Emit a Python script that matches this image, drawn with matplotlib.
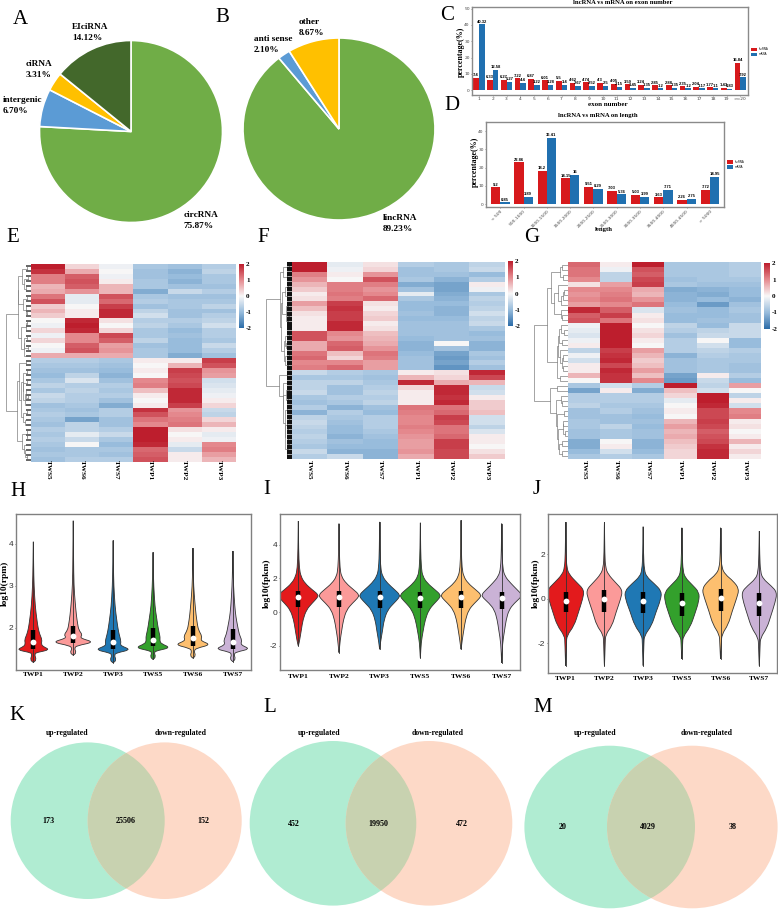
import numpy as np
import matplotlib
matplotlib.use('Agg')
import matplotlib.pyplot as plt
from matplotlib.colors import LinearSegmentedColormap
from matplotlib.patches import Ellipse, PathPatch
from matplotlib.path import Path

plt.rcParams['axes.unicode_minus'] = False

W, H = 778, 909
SERIF = 'Liberation Serif'
SANS = 'Liberation Sans'

# pies
pie_a_labels = ['circRNA', 'intergenic', 'ciRNA', 'EIciRNA']
pie_a_values = [75.87, 6.70, 3.31, 14.12]
pie_b_labels = ['lincRNA', 'anti sense', 'other']
pie_b_values = [89.23, 2.10, 8.67]

# bars
exon_labels = [str(i) for i in range(1, 20)] + ['>=20']
exon_lnc = [7.4, 6.33, 6.27, 7.22, 6.87, 6.01, 5.5, 4.62, 4.74, 4.3, 4.05, 3.59, 3.24, 2.85, 2.88, 2.35, 2.04, 1.77, 1.43, 16.84]
exon_m = [40.32, 12.58, 5.27, 4.4, 3.22, 3.28, 3.4, 2.67, 2.52, 2.5, 2.15, 1.45, 1.35, 1.2, 1.35, 1.2, 1.17, 1.1, 0.83, 7.92]
len_labels = ['< 500', '500-1000', '1000-1500', '1500-2000', '2000-2500', '2500-3000', '3000-3500', '3500-4000', '4000-4500', '> 5000']
len_lnc = [9.2, 22.86, 18.2, 14.15, 9.51, 7.03, 5.03, 3.63, 2.26, 7.72]
len_m = [0.85, 3.89, 36.41, 16, 8.29, 5.36, 3.99, 7.71, 2.75, 14.95]

# heatmaps, columns TWS5 TWS6 TWS7 TWP1 TWP2 TWP3
heat_cols = ['TWS5', 'TWS6', 'TWS7', 'TWP1', 'TWP2', 'TWP3']
heat_e = [
    [2.0, .3, -.1, -.8, -.9, -.7], [1.8, .7, 0, -.9, -1.1, -.6], [1.1, 1.4, -.1, -.9, -1.0, -.8],
    [1.1, 1.5, .1, -.8, -1.1, -.8], [.6, 1.4, .6, -.8, -.9, -.9], [.7, .9, .6, -1.2, -.5, -.7],
    [1.2, -.2, 1.5, -.8, -.9, -.9], [1.5, -.2, 1.3, -.7, -.8, -.8], [.4, 0, 1.7, -.9, -.8, -.6],
    [.6, .1, 1.9, -.6, -.9, -.9], [.4, .1, 1.9, -.4, -.9, -.7], [0, 1.9, .2, -.7, -.7, -.6],
    [-.1, 2, 0, -.6, -.8, -.4], [.3, 1.9, .3, -.8, -1, -.7], [-.1, 1.0, 1.6, -.8, -.9, -.7],
    [.3, 1, 1.4, -.6, -1, -.8], [0, 1.4, .8, -.9, -1, -.5], [-.1, 1.5, .9, -.8, -1, -.7],
    [.7, .7, .7, -.8, -1.2, -.9],
    [-.7, -.7, -.8, .1, .1, 1.7], [-.8, -.8, -.9, 0, .6, 1.5], [-.9, -.9, -1, .1, 1.7, .9],
    [-1, -.6, -1.1, 0, 1.6, .8], [-.8, -.3, -.9, 1.0, 1.5, -.4], [-.6, -.7, -.7, 1.1, 1.6, -.3],
    [-.8, -.6, -.8, .5, 1.9, -.2], [-.5, -.7, -.7, .1, 1.9, -.1], [-.6, -.7, -.9, 0, 1.9, .1],
    [-.9, -.8, -1.2, .1, 1.7, .3], [-.8, -.9, -.7, 1.8, .9, -.5], [-.7, -.8, -.7, 1.5, 1.0, -.6],
    [-.8, -1.3, -.9, 1.2, 1.1, .3], [-.9, -.6, -.9, 1.0, 1.2, .6], [-.7, -.6, -.7, 2, .2, .1],
    [-.8, -.2, -.5, 2, 0, -.2], [-.7, -.5, -.8, 2, .1, -.1], [-.8, 0, -1, 1.9, -.2, 1.0],
    [-.9, -.8, -.8, 1.3, -.5, 1.1], [-.8, -.8, -.9, 1.4, .1, .8], [-.9, -.7, -.7, 1.5, .1, .6],
]
heat_f = [
    [2, -.2, .2, -.7, -.8, -.6], [2, -.1, .3, -.9, -.8, -.5], [1.1, .1, .9, -.9, -.9, -1],
    [.9, 0, 1.5, -.8, -1.1, -.7], [.6, 1.1, 1.1, -1.2, -1.3, .1], [.4, 1.1, .9, -.9, -1.3, -.1],
    [.1, 1.2, 1.0, -.2, -1.2, -.8], [.2, 1.1, 1.3, -.8, -1.1, -.6], [.8, 1.7, .2, -1, -1, -.7],
    [.5, 1.8, .1, -1, -1.1, -.6], [.2, 1.7, .3, -.9, -1.1, -.4], [.1, 1.7, .4, -1, -1, -.6],
    [.1, 1.9, .1, -.9, -.9, -.5], [.1, 1.9, .2, -.9, -.9, -.8], [1.5, 1, .5, -.9, -.9, -1],
    [1.5, .9, .6, -1, -.9, -.9], [.7, 1.3, .7, -1.1, .0, -1.1], [.7, 1.4, .9, -1.1, -.9, -1.1],
    [1.2, .5, 1.2, -1.0, -1.3, -.8], [1.3, .3, 1.1, -.9, -1.4, -.9], [1.0, 1.0, .8, -.9, -1.3, -.7],
    [1.1, 1.3, .8, -.9, -1.5, -.9],
    [-.5, -.7, -.8, .1, .2, 1.9], [-.8, -.8, -.9, .6, .3, 1.6], [-.6, -.6, -.8, 1.9, .7, .6],
    [-.6, -.9, -.7, .3, 1.9, -.5], [-.5, -.9, -.6, .1, 1.9, -.4], [-.8, -.7, -.7, .1, 1.8, .1],
    [-.9, -.8, -.6, .1, 1.9, .4], [-.7, -1.1, -.9, 1.2, 1.2, .4], [-1.1, -.7, -1, 1.1, 1.3, .5],
    [-.6, -.8, -.7, 1.0, 1.7, -.4], [-.5, -.9, -.7, 1.0, 1.6, -.4], [-.6, -1, -.7, 1.1, 1.2, -.6],
    [-.7, -1, -.8, 1.0, 1.2, -.3], [-.6, -1.1, -.9, .9, 1.3, .1], [-.7, -.9, -1, .8, 1.7, .1],
    [-.8, -1, -1, .8, 1.7, 0], [-.5, -1.1, -1.1, .9, 1.6, .2], [-.7, -.5, -1.1, .7, 1.6, .4],
]
heat_g = [
    [1.3, .1, 2, -.8, -.8, -.7], [1.2, -.1, 1.5, -.8, -.8, -.7], [1.2, -.6, 1.4, -.8, -.8, -.7],
    [1.0, -.6, 1.6, -.9, -.8, -.8], [.2, .8, 1.7, -.8, -.9, -.9], [1.0, 1.0, .7, -1.2, -1.1, -1],
    [.9, 1.1, .6, -1.1, -1.2, -1], [1.0, 1.2, .9, -1.1, -1, -1.1], [.8, 1.0, 1.2, -1, -1.4, -.9],
    [1.9, 1.4, -.3, -.9, -1.0, -.8], [1.4, 1.7, .1, -1.0, -1.0, -.9], [1.5, 1.2, .2, -1, -.9, -.9],
    [-.1, 2, 0, -.6, -1, -.5], [-.2, 2, .2, -.7, -.6, -.5], [-.3, 2, .3, -.9, -.5, -.5],
    [-.1, 2, .1, -.7, .0, -1.0], [.1, 2, 0, -.7, -.4, -1.0], [-.6, 1.7, .8, -.7, -.6, -.7],
    [-.1, 1.8, .6, -1.1, -.7, -.8], [-.4, 1.9, .4, -.9, -.8, -.8], [.1, 1.6, .5, -.9, -.8, -.9],
    [.1, 1.9, .8, -.9, -.8, -.9], [.6, 1.8, .5, -1.3, .1, -.7], [0, 1.8, 1.0, -1.4, -.5, -1.0],
    [-.8, -.4, -.7, 2, -.6, .8], [-1.3, .1, -1.2, .5, -.4, .0],
    [-.7, -.7, -.7, .3, 2, -.6], [-.7, -.7, -.7, -.2, 2, .1], [-.6, -.8, -.8, 0, 1.9, -.4],
    [-.9, -.7, -.9, .1, 1.6, 1.0], [-.9, -.9, -1, 0, 1.6, 1.1], [-.8, -.9, -.9, .6, 1.7, .1],
    [-.8, -.6, -1, .8, 1.6, .2], [-.9, -.8, -.9, .6, 1.4, .0], [-.9, -.8, -.9, .7, 1.5, .1],
    [-1.2, .0, -1.1, .5, 1.6, .6], [-1.2, .1, -1.1, .4, 1.8, .1], [-1.0, -.4, -1.0, .3, 1.9, .3],
    [-.8, -.7, -.8, .3, 1.9, .1],
]

# violin panels, names shared
vio_names = ['TWP1', 'TWP2', 'TWP3', 'TWS5', 'TWS6', 'TWS7']
vio_colors = ['#e31a1c', '#fb9a99', '#1f78b4', '#33a02c', '#fdbf6f', '#cab2d6']

# H: for each violin levels of log10(rpm) and half widths
h_y = [
    [1.18, 1.24, 1.38, 1.42, 1.48, 1.56, 1.62, 1.72, 1.85, 2.0, 2.2, 2.5, 3.0, 3.5, 4.05],
    [1.35, 1.41, 1.52, 1.58, 1.66, 1.74, 1.78, 1.84, 1.95, 2.1, 2.3, 2.6, 3.0, 3.7, 4.55],
    [1.17, 1.23, 1.36, 1.41, 1.48, 1.56, 1.6, 1.68, 1.85, 2.0, 2.2, 2.5, 3.0, 3.5, 4.08],
    [1.25, 1.31, 1.42, 1.46, 1.53, 1.62, 1.68, 1.78, 1.9, 2.05, 2.25, 2.5, 3.0, 3.4, 3.8],
    [1.28, 1.34, 1.46, 1.52, 1.6, 1.68, 1.72, 1.8, 1.95, 2.1, 2.3, 2.6, 3.0, 3.4, 3.9],
    [1.2, 1.26, 1.38, 1.43, 1.5, 1.58, 1.63, 1.7, 1.85, 2.05, 2.25, 2.5, 3.0, 3.4, 3.83],
]
h_w = [
    [0, .08, .025, .1, .42, .24, .2, .22, .16, .12, .09, .05, .018, .008, .002],
    [0, .08, .025, .1, .52, .24, .18, .23, .14, .11, .08, .05, .018, .008, .002],
    [0, .08, .025, .1, .44, .24, .18, .2, .15, .12, .09, .05, .018, .008, .002],
    [0, .07, .025, .1, .44, .22, .17, .18, .15, .12, .09, .05, .018, .008, .002],
    [0, .07, .025, .1, .44, .24, .2, .23, .14, .11, .08, .05, .018, .008, .002],
    [0, .07, .025, .1, .43, .24, .2, .23, .16, .12, .08, .05, .018, .008, .002],
]
h_box = [(1.5, 1.96, 1.67), (1.64, 2.04, 1.82), (1.5, 1.96, 1.66), (1.56, 2.0, 1.71), (1.58, 2.05, 1.75), (1.5, 1.98, 1.67)]

# I: log10(fpkm)
i_y = [
    [-2.0, -1.64, -1.05, -.45, .14, .53, .83, 1.03, 1.33, 1.72, 2.12, 2.6, 3.7, 5.4],
    [-2.4, -1.65, -1.05, -.45, .14, .53, .83, 1.03, 1.33, 1.72, 2.12, 2.6, 3.7, 5.25],
    [-2.2, -1.8, -1.1, -.45, .14, .53, .83, 1.03, 1.33, 1.72, 2.12, 2.6, 3.7, 5.35],
    [-2.7, -1.8, -1.1, -.45, .14, .53, .83, 1.03, 1.33, 1.72, 2.12, 2.6, 3.7, 5.3],
    [-2.2, -1.65, -1.05, -.45, .14, .53, .83, 1.03, 1.33, 1.72, 2.12, 2.6, 3.7, 5.45],
    [-3.0, -1.85, -1.1, -.45, .14, .53, .83, 1.03, 1.33, 1.72, 2.12, 2.6, 3.7, 5.25],
]
i_w = [
    [.003, .035, .075, .115, .2, .34, .46, .5, .34, .16, .065, .025, .008, .002],
    [.003, .03, .07, .11, .19, .33, .46, .5, .36, .17, .06, .025, .008, .002],
    [.003, .02, .07, .11, .2, .35, .47, .5, .37, .19, .07, .025, .008, .002],
    [.003, .02, .07, .12, .21, .35, .47, .5, .36, .17, .06, .025, .008, .002],
    [.003, .03, .07, .11, .19, .33, .46, .5, .36, .17, .065, .025, .008, .002],
    [.003, .02, .07, .11, .18, .31, .45, .5, .38, .22, .08, .025, .008, .002],
]
i_box = [(.28, 1.23, .89), (.28, 1.28, .91), (.24, 1.23, .87), (.24, 1.19, .83), (.24, 1.25, .91), (.18, 1.21, .83)]

# J: log10(fpkm)
j_y = [
    [-3.0, -2.0, -1.65, -1.2, -.6, 0, .4, .75, 1.1, 1.4, 2.0, 3.45],
    [-3.0, -2.0, -1.6, -1.2, -.6, 0, .4, .75, 1.1, 1.4, 2.0, 3.45],
    [-3.0, -2.0, -1.65, -1.2, -.6, -.05, .35, .7, 1.0, 1.3, 2.0, 3.25],
    [-2.7, -2.0, -1.7, -1.25, -.65, -.1, .3, .65, .95, 1.25, 2.0, 3.2],
    [-2.7, -2.0, -1.6, -1.15, -.55, .05, .45, .8, 1.1, 1.4, 2.0, 3.2],
    [-3.0, -2.1, -1.75, -1.3, -.75, -.15, .3, .6, .9, 1.2, 2.0, 3.05],
]
j_w = [
    [.003, .02, .03, .22, .33, .44, .48, .28, .09, .03, .01, .002],
    [.003, .02, .03, .2, .3, .42, .47, .28, .1, .03, .01, .002],
    [.003, .02, .03, .22, .33, .45, .48, .28, .09, .03, .01, .002],
    [.003, .02, .03, .22, .34, .44, .45, .26, .09, .03, .01, .002],
    [.003, .02, .03, .2, .3, .42, .48, .33, .12, .03, .01, .002],
    [.003, .02, .03, .2, .3, .41, .46, .3, .1, .03, .01, .002],
]
j_box = [(-.6, .33, -.08), (-.6, .4, 0), (-.65, .3, -.1), (-.75, .25, -.2), (-.55, .45, .05), (-.75, .27, -.2)]

# venn
venn_k = [173, 25506, 152]
venn_l = [452, 19950, 472]
venn_m = [20, 4029, 38]

fig = plt.figure(figsize=(W / 100, H / 100), dpi=100)


def box(l, t, r, b):
    return fig.add_axes([l / W, 1 - b / H, (r - l) / W, (b - t) / H])


# pixel overlay for the loose text and venn shapes
ov = fig.add_axes([0, 0, 1, 1], zorder=10)
ov.set_xlim(0, W)
ov.set_ylim(H, 0)
ov.axis('off')


def txt(x, y, s, size=6, bold=True, ha='center', rot=0, family=SERIF, color='black'):
    ov.text(x, y, s, fontsize=size, fontweight='bold' if bold else 'normal', ha=ha, va='center',
            rotation=rot, family=family, color=color)


def pie(cx, cy, rx, ry, values, colors, start):
    ax = box(cx - rx, cy - ry, cx + rx, cy + ry)
    ax.pie(values, colors=colors, startangle=start, counterclock=False, radius=1,
           wedgeprops={'edgecolor': 'white', 'linewidth': 1.2})
    ax.set_aspect('auto')
    ax.set_xlim(-1, 1)
    ax.set_ylim(-1, 1)


pie(131, 131.5, 91.5, 91, pie_a_values, ['#70ad47', '#5b9bd5', '#ffc000', '#43682b'], 90)
pie(339, 129, 96, 91, pie_b_values, ['#70ad47', '#5b9bd5', '#ffc000'], 90)
for x, y, name, val in [(184, 215, pie_a_labels[0], pie_a_values[0]), (3, 100, pie_a_labels[1], pie_a_values[1]),
                        (26, 64, pie_a_labels[2], pie_a_values[2]), (72, 27, pie_a_labels[3], pie_a_values[3]),
                        (383, 218, pie_b_labels[0], pie_b_values[0]), (254, 39, pie_b_labels[1], pie_b_values[1]),
                        (299, 22, pie_b_labels[2], pie_b_values[2])]:
    txt(x, y, name, 6.7, ha='left')
    txt(x, y + 11, f'{val:.2f}%', 6.7, ha='left')


def bars(rect, labels, lnc, m, xlim, ylim, yticks, legend_y, width=.41, rot=0, lab=3):
    ax = box(*rect)
    x = np.arange(len(labels))
    ax.bar(x - width / 2, lnc, width, color='#d7191c', label='lncRNA')
    ax.bar(x + width / 2, m, width, color='#2070b0', label='mRNA')
    for xi, a, b in zip(x, lnc, m):
        ax.text(xi - width / 2, a + .4, f'{a:g}', ha='center', va='bottom', fontsize=lab, fontweight='bold', family=SANS)
        ax.text(xi + width / 2, b + .4, f'{b:g}', ha='center', va='bottom', fontsize=lab, fontweight='bold', family=SANS)
    ax.set_xlim(*xlim)
    ax.set_ylim(*ylim)
    ax.set_yticks(yticks)
    ax.set_xticks(x)
    ax.set_xticklabels(labels, rotation=rot, ha='right' if rot else 'center', rotation_mode='anchor')
    ax.tick_params(labelsize=3.2, length=1, width=.4, pad=.6, colors='#444444')
    for s in ax.spines.values():
        s.set_color('#8a8a8a')
        s.set_linewidth(1)
    ax.legend(loc='center left', bbox_to_anchor=(1.0, legend_y), frameon=False, fontsize=2, handlelength=2.2,
              handleheight=1.5, labelspacing=.4)


bars((472, 7, 748, 95), exon_labels, exon_lnc, exon_m, (-.51, 19.56), (-3, 51), [0, 10, 20, 30, 40, 50], .49)
txt(623, 3, 'lncRNA vs mRNA on exon number', 4.8)
txt(608, 104, 'exon number', 5)
txt(461, 52, 'percentage(%)', 5.7, rot=90)
bars((486, 122, 724, 207), len_labels, len_lnc, len_m, (-.61, 9.6), (-1.65, 45.1), [0, 10, 20, 30, 40], .5, width=.4, rot=45)
txt(598, 115, 'lncRNA vs mRNA on length', 4.8)
txt(604, 229, 'length', 4.8)
txt(475, 162, 'percentage(%)', 5.7, rot=90)

cmap = LinearSegmentedColormap.from_list('heat', [(0, '#2b6ca8'), (.25, '#98bcdc'), (.5, '#f8f7f7'), (.75, '#e58a8f'), (1, '#bd1e2d')])


def dendro(ax, mat, leaf_color, leaf_lw):
    # merge neighbouring rows only, so the drawn row order stays as it is
    mat = np.array(mat, dtype=float)
    nodes = [{'y': float(i), 'h': 0.0, 'm': mat[i], 'n': 1} for i in range(len(mat))]
    lines = []
    while len(nodes) > 1:
        dist = []
        for p, q in zip(nodes[:-1], nodes[1:]):
            dist.append(np.linalg.norm(p['m'] - q['m']) * np.sqrt(p['n'] * q['n'] / (p['n'] + q['n'])))
        k = int(np.argmin(dist))
        p, q = nodes[k], nodes[k + 1]
        h = max(dist[k], p['h'], q['h'])
        lines.append(([p['h'], h, h, q['h']], [p['y'], p['y'], q['y'], q['y']]))
        n = p['n'] + q['n']
        nodes[k:k + 2] = [{'y': (p['y'] + q['y']) / 2, 'h': h, 'm': (p['m'] * p['n'] + q['m'] * q['n']) / n, 'n': n}]
    top = nodes[0]['h']
    for xs, ys in lines:
        ax.plot(np.sqrt(np.array(xs) / top), ys, color='#808080', lw=.5, solid_joinstyle='miter')
    if leaf_lw:
        for i in range(len(mat)):
            ax.plot([0, .2], [i, i], color=leaf_color, lw=leaf_lw, solid_capstyle='butt')
    ax.set_xlim(1.02, 0)
    ax.set_ylim(len(mat) - .5, -.5)
    ax.axis('off')


def heat(rect, den_left, bar_rect, mat, label_y, leaf_color=None, leaf_lw=0):
    ax = box(*rect)
    im = ax.imshow(np.array(mat), cmap=cmap, vmin=-2, vmax=2, aspect='auto', interpolation='nearest')
    ax.axis('off')
    dendro(box(den_left, rect[1], rect[0], rect[3]), mat, leaf_color, leaf_lw)
    cax = box(*bar_rect)
    cb = fig.colorbar(im, cax=cax)
    cb.set_ticks([-2, -1, 0, 1, 2])
    cb.outline.set_visible(False)
    cax.tick_params(length=0, pad=1.5)
    for t in cax.get_yticklabels():
        t.set_fontsize(5)
        t.set_fontweight('bold')
        t.set_family(SERIF)
    step = (rect[2] - rect[0]) / 6
    for i, name in enumerate(heat_cols):
        txt(rect[0] + step * (i + .5), label_y, name, 5.2, rot=270)


heat((31, 264, 236, 462), 5, (239, 264, 244, 328), heat_e, 470, '#666666', 1.4)
heat((292, 262, 505, 459), 265, (508, 261, 513, 326), heat_f, 470, '#111111', 3.2)
heat((568, 262, 761, 459), 533, (764, 263, 770, 329), heat_g, 470)


def violin_path(c, y, w):
    # closed outline, quadratic curves through the read points keep it round
    pts = np.array(list(zip(c + w, y)) + list(zip(c - w, y))[::-1])
    mids = (pts + np.roll(pts, -1, axis=0)) / 2
    verts = [mids[-1]]
    codes = [Path.MOVETO]
    for p, m in zip(pts, mids):
        verts += [p, m]
        codes += [Path.CURVE3, Path.CURVE3]
    return Path(verts, codes)


def violins(rect, ys, ws, boxes, xlim, ylim, yticks, ylabel, ylab_x, name_y):
    ax = box(*rect)
    for i in range(6):
        y = np.array(ys[i])
        w = np.array(ws[i])
        c = i + 1
        ax.add_patch(PathPatch(violin_path(c, y, w), facecolor=vio_colors[i], edgecolor='#333333', lw=.6, zorder=2))
        ax.plot([c, c], [y[0], y[-1]], color='#333333', lw=.6, zorder=3)
        lo, hi, med = boxes[i]
        ax.plot([c, c], [lo, hi], color='black', lw=3.2, solid_capstyle='butt', zorder=4)
        ax.plot([c], [med], 'o', color='white', ms=4.2, mew=0, zorder=5)
    ax.set_xlim(*xlim)
    ax.set_ylim(*ylim)
    ax.set_xticks([])
    ax.set_yticks(yticks)
    ax.tick_params(labelsize=6, length=1, width=.5, pad=1, colors='#333333')
    for t in ax.get_yticklabels():
        t.set_family(SANS)
    for s in ax.spines.values():
        s.set_color('#808080')
        s.set_linewidth(1)
    step = (rect[2] - rect[0]) / (xlim[1] - xlim[0])
    for i, name in enumerate(vio_names):
        txt(rect[0] + (i + 1 - xlim[0]) * step, name_y, name, 5.4)
    txt(ylab_x, 583, ylabel, 6.8, rot=90)


violins((16, 514, 251, 670), h_y, h_w, h_box, (.566, 6.456), (1.0, 4.71), [2, 3, 4], 'log10(rpm)', 5, 675)
violins((280, 514, 520, 670), i_y, i_w, i_box, (.55, 6.45), (-3.43, 5.82), [-2, 0, 2, 4], 'log10(fpkm)', 267, 676)
violins((548, 514, 777, 673), j_y, j_w, j_box, (.543, 6.457), (-3.33, 3.82), [-2, 0, 2], 'log10(fpkm)', 536, 678)


def venn(cxl, cxr, cy, rx, ry, vals, up_x, down_x, lab_y, xs, num_y):
    green = Ellipse((cxl, cy), 2 * rx, 2 * ry, fc='#b0ecd2', ec='none', zorder=1)
    salmon = Ellipse((cxr, cy), 2 * rx, 2 * ry, fc='#fdd9c7', ec='none', zorder=2)
    both = Ellipse((cxl, cy), 2 * rx, 2 * ry, fc='#c8d2b0', ec='none', zorder=3)
    ov.add_patch(green)
    ov.add_patch(salmon)
    ov.add_patch(both)
    both.set_clip_path(salmon)
    txt(up_x, lab_y, 'up-regulated', 5.6)
    txt(down_x, lab_y, 'down-regulated', 5.6)
    for x, v in zip(xs, vals):
        ov.text(x, num_y, str(v), fontsize=5.8, fontweight='bold', ha='center', va='center', family=SERIF, zorder=6)


venn(87.7, 164.7, 820.7, 77, 78.3, venn_k, 66.7, 180.5, 733, (48.5, 126, 203), 820.7)
venn(333, 429, 823.3, 83.3, 82.3, venn_l, 319, 437.5, 733, (294, 378, 462), 823.5)
venn(609.7, 692.3, 827, 85.3, 81.3, venn_m, 595, 707, 733, (563, 648, 733), 827)

for s, x, y in [('A', 20, 20), ('B', 222, 17), ('C', 447, 16), ('D', 452, 106), ('E', 13, 238), ('F', 263, 238),
                ('G', 532, 238), ('H', 18, 491), ('I', 267, 490), ('J', 537, 490), ('K', 17, 715), ('L', 270, 707), ('M', 543, 707)]:
    txt(x, y, s, 15, bold=False)

fig.savefig('out.png', dpi=100)
